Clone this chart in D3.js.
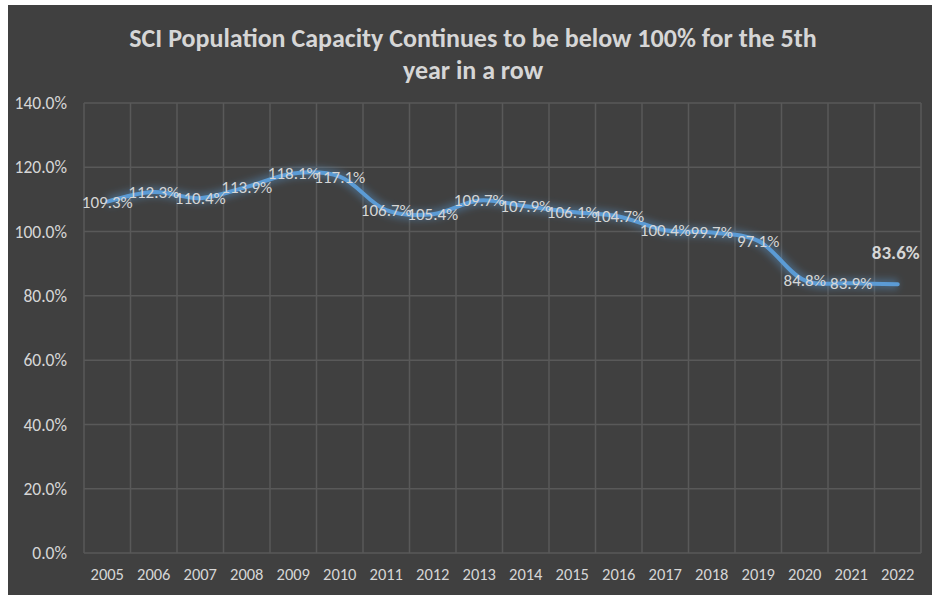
<!DOCTYPE html>
<html>
<head>
<meta charset="utf-8">
<script src="https://cdn.jsdelivr.net/npm/d3@7"></script>
<style>
  html, body { margin: 0; padding: 0; background: #ffffff; }
  svg { display: block; }
</style>
</head>
<body>
<svg id="chart" width="932" height="595"></svg>
<script>
// Capacity share by year
const years = ["2005","2006","2007","2008","2009","2010","2011","2012","2013","2014","2015","2016","2017","2018","2019","2020","2021","2022"];
const capacity = [109.3,112.3,110.4,113.9,118.1,117.1,106.7,105.4,109.7,107.9,106.1,104.7,100.4,99.7,97.1,84.8,83.9,83.6];
const yTicks = [0,20,40,60,80,100,120,140];
const titleLines = ["SCI Population Capacity Continues to be below 100% for the 5th", "year in a row"];

const W = 932, H = 595;
const font = "Carlito, Calibri, 'Open Sans', 'Liberation Sans', sans-serif";
const textColor = "#d6d6d6";
const svg = d3.select("#chart");

// panel background
svg.append("rect").attr("x", 8).attr("y", 5).attr("width", W - 8).attr("height", H - 5).attr("fill", "#404040");

const plot = { left: 84, right: 921, top: 103, bottom: 553 };

const x = d3.scaleBand().domain(years).range([plot.left, plot.right]).padding(0);
const y = d3.scaleLinear().domain([0, 140]).range([plot.bottom, plot.top]);

// glow filter for the line
const defs = svg.append("defs");
const f = defs.append("filter").attr("id", "glow").attr("x", "-10%").attr("y", "-50%").attr("width", "120%").attr("height", "200%");
f.append("feGaussianBlur").attr("stdDeviation", 3.5);

// grid
const grid = svg.append("g");
grid.selectAll("line.h").data(yTicks).join("line")
  .attr("x1", plot.left).attr("x2", plot.right)
  .attr("y1", d => y(d)).attr("y2", d => y(d))
  .attr("stroke", "#595959").attr("stroke-width", 1.5);
const vlines = x.domain().map(d => x(d)).concat([plot.right]);
grid.selectAll("line.v").data(vlines).join("line")
  .attr("x1", d => d).attr("x2", d => d)
  .attr("y1", plot.top).attr("y2", plot.bottom)
  .attr("stroke", "#595959").attr("stroke-width", 1.5);

// y axis labels
const yAxis = d3.axisLeft(y).tickValues(yTicks).tickFormat(d => d.toFixed(1) + "%").tickSize(0).tickPadding(0);
const ya = svg.append("g").attr("transform", `translate(67,0)`).call(yAxis);
ya.select(".domain").remove();
ya.selectAll("text").attr("fill", textColor).attr("font-size", 17.5).attr("font-family", font);

// x axis labels
const xAxis = d3.axisBottom(x).tickSize(0).tickPadding(0);
const xa = svg.append("g").attr("transform", `translate(0,568)`).call(xAxis);
xa.select(".domain").remove();
xa.selectAll("text").attr("fill", textColor).attr("font-size", 16.5).attr("font-family", font);

// series line
const pts = years.map((yr, i) => [x(yr) + x.bandwidth() / 2, y(capacity[i])]);
const lineGen = d3.line().curve(d3.curveCatmullRom.alpha(0.5));
svg.append("path").attr("d", lineGen(pts)).attr("fill", "none")
  .attr("stroke", "#5b9bd5").attr("stroke-width", 10).attr("stroke-opacity", 0.4)
  .attr("filter", "url(#glow)");
svg.append("path").attr("d", lineGen(pts)).attr("fill", "none")
  .attr("stroke", "#5b9bd5").attr("stroke-width", 4).attr("stroke-linecap", "round");

// data labels
const last = years.length - 1;
svg.append("g").selectAll("text").data(years.slice(0, last)).join("text")
  .attr("x", (d, i) => pts[i][0])
  .attr("y", (d, i) => pts[i][1])
  .attr("dy", "0.35em")
  .attr("text-anchor", "middle")
  .attr("fill", textColor).attr("font-size", 17).attr("font-family", font)
  .text((d, i) => capacity[i].toFixed(1) + "%");

svg.append("text")
  .attr("x", pts[last][0] - 2).attr("y", pts[last][1] - 32)
  .attr("dy", "0.35em").attr("text-anchor", "middle")
  .attr("fill", textColor).attr("font-size", 19).attr("font-weight", "bold").attr("font-family", font)
  .text(capacity[last].toFixed(1) + "%");

// title
svg.append("g").selectAll("text").data(titleLines).join("text")
  .attr("x", 473).attr("y", (d, i) => 38 + i * 32)
  .attr("dy", "0.35em").attr("text-anchor", "middle")
  .attr("fill", textColor).attr("font-size", 26).attr("font-weight", "bold").attr("font-family", font)
  .text(d => d);
</script>
</body>
</html>
